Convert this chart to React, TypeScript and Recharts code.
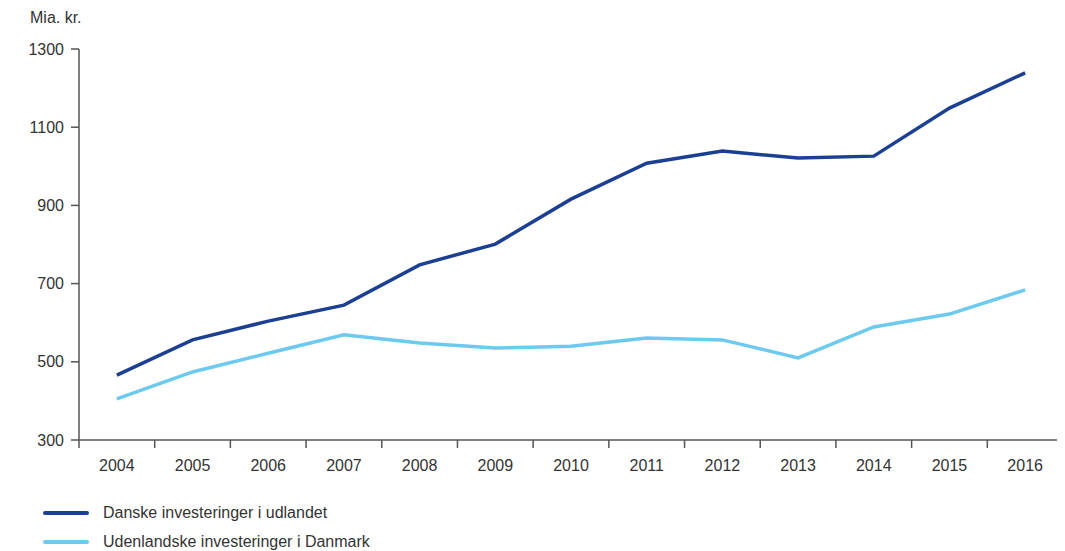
import React from 'react';
import { LineChart, Line, XAxis, YAxis } from 'recharts';

const years = [2004, 2005, 2006, 2007, 2008, 2009, 2010, 2011, 2012, 2013, 2014, 2015, 2016];
const danske = [466, 556, 604, 645, 748, 801, 916, 1008, 1039, 1021, 1026, 1149, 1239];
const udenlandske = [405, 474, 522, 569, 548, 535, 540, 561, 556, 510, 589, 622, 684];
const yTicks = [300, 500, 700, 900, 1100, 1300];
const seriesNames = ['Danske investeringer i udlandet', 'Udenlandske investeringer i Danmark'];
const colors = ['#1b3f93', '#6cc9ef'];

const data = years.map((y, i) => ({ year: y, danske: danske[i], udenlandske: udenlandske[i] }));
const xTicks: number[] = [];
years.forEach((y) => { xTicks.push(y - 0.5); xTicks.push(y); });
xTicks.push(years[years.length - 1] + 0.5);

const FONT = '"Liberation Sans", Arial, sans-serif';

const XTick = (props: any) => {
  const { x, y, payload } = props;
  const v = payload.value;
  if (Number.isInteger(v)) {
    return (
      <text x={x} y={y + 17} dy="0.355em" textAnchor="middle" fontSize={16} fill="#333" fontFamily={FONT}>
        {v}
      </text>
    );
  }
  return <line x1={x} x2={x} y1={y - 8} y2={y} stroke="#555" strokeWidth={1.5} />;
};

export default function App() {
  return (
    <div style={{ position: 'relative', width: 1057, height: 543, fontFamily: FONT }}>
      <div style={{ position: 'absolute', left: 22, top: 1, fontSize: 16, color: '#333' }}>Mia. kr.</div>
      <LineChart width={1057} height={472} data={data} margin={{ top: 41, right: 2, left: 0, bottom: 0 }}>
        <XAxis
          dataKey="year"
          type="number"
          domain={[2003.5, 2016.5]}
          ticks={xTicks}
          interval={0}
          height={40}
          tickSize={8}
          tickMargin={0}
          tickLine={false}
          axisLine={{ stroke: '#555', strokeWidth: 1.5 }}
          tick={<XTick />}
        />
        <YAxis
          domain={[300, 1300]}
          ticks={yTicks}
          interval={0}
          width={71}
          tickSize={8}
          tickMargin={7}
          axisLine={{ stroke: '#555', strokeWidth: 1.5 }}
          tickLine={{ stroke: '#555', strokeWidth: 1.5 }}
          tick={{ fontSize: 16, fill: '#333', fontFamily: FONT }}
        />
        <Line dataKey="danske" stroke={colors[0]} strokeWidth={3.5} dot={false} isAnimationActive={false} />
        <Line dataKey="udenlandske" stroke={colors[1]} strokeWidth={3.5} dot={false} isAnimationActive={false} />
      </LineChart>
      {seriesNames.map((n, i) => (
        <div key={n} style={{ position: 'absolute', left: 35, top: 494 + i * 29, height: 22, display: 'flex', alignItems: 'center' }}>
          <div style={{ width: 46, height: 4, borderRadius: 2, background: colors[i] }} />
          <span style={{ marginLeft: 14, fontSize: 16, color: '#333' }}>{n}</span>
        </div>
      ))}
    </div>
  );
}
